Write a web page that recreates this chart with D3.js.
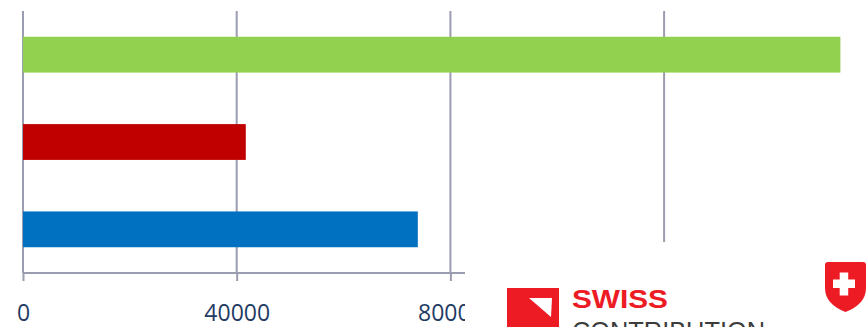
<!DOCTYPE html>
<html>
<head>
<meta charset="utf-8">
<script src="https://cdn.jsdelivr.net/npm/d3@7"></script>
<style>
  html, body { margin: 0; padding: 0; background: #fff; }
  svg { display: block; }
</style>
</head>
<body>
<svg id="chart" width="868" height="327"></svg>
<script>
// ---- data ----
const categories = ["A", "B", "C"];
const values = [153000, 41700, 73900];
const colors = ["#92d050", "#c00000", "#0070c0"];
const gridValues = [0, 40000, 80000, 120000];
const tickLabels = [0, 40000, 80000];

const svg = d3.select("#chart");
const W = 868, H = 327;
const x0 = 23, plotTop = 11, plotBottom = 273;

const x = d3.scaleLinear().domain([0, 160000]).range([x0, x0 + 4 * 213.7]);
const y = d3.scaleBand().domain(categories).range([plotTop, plotBottom])
  .paddingInner(0.59).paddingOuter(0.295);

const gridColor = "#9a9cb0";

// gridlines
svg.append("g").selectAll("line").data(gridValues).join("line")
  .attr("x1", d => x(d)).attr("x2", d => x(d))
  .attr("y1", plotTop).attr("y2", plotBottom)
  .attr("stroke", gridColor).attr("stroke-width", 2);

// bars
svg.append("g").selectAll("rect").data(categories).join("rect")
  .attr("x", x(0))
  .attr("y", d => y(d))
  .attr("width", (d, i) => x(values[i]) - x(0))
  .attr("height", y.bandwidth())
  .attr("fill", (d, i) => colors[i]);

// axis
const axis = d3.axisBottom(x).tickValues(tickLabels).tickSize(8).tickPadding(24)
  .tickFormat(d3.format("d"));
const gAxis = svg.append("g").attr("transform", `translate(0,${plotBottom})`).call(axis);
gAxis.select(".domain").attr("stroke", gridColor).attr("stroke-width", 2)
  .attr("d", `M${x0},0H${W}`);
gAxis.selectAll(".tick line").attr("stroke", gridColor).attr("stroke-width", 2);
gAxis.selectAll(".tick text")
  .attr("fill", "#1f3b63")
  .attr("font-family", "'Open Sans', sans-serif")
  .attr("font-size", 23);

// logo overlay (white background)
const logo = svg.append("g");
logo.append("rect").attr("x", 465).attr("y", 242).attr("width", W - 465).attr("height", H - 242).attr("fill", "#fff");
logo.append("rect").attr("x", 507).attr("y", 288).attr("width", 52).attr("height", 50).attr("fill", "#ed1c24");
logo.append("path").attr("d", "M529,298 L552,298 L551,317 Z").attr("fill", "#fff");
logo.append("text").attr("x", 572).attr("y", 307.5)
  .attr("font-family", "'Liberation Sans', Arial, sans-serif").attr("font-weight", "bold")
  .attr("font-size", 25).attr("fill", "#ed1c24")
  .attr("textLength", 96).attr("lengthAdjust", "spacingAndGlyphs").text("SWISS");
logo.append("text").attr("x", 572).attr("y", 340)
  .attr("font-family", "'Liberation Sans', Arial, sans-serif")
  .attr("font-size", 25).attr("fill", "#3c3c3c")
  .attr("textLength", 193).attr("lengthAdjust", "spacingAndGlyphs").text("CONTRIBUTION");
// shield
logo.append("path")
  .attr("d", "M825,265 Q825,262 828,262 L863,262 Q866,262 866,265 L866,288 Q866,304 845.5,312 Q825,304 825,288 Z")
  .attr("fill", "#ed1c24");
logo.append("rect").attr("x", 833).attr("y", 279.5).attr("width", 22).attr("height", 8.5).attr("fill", "#fff");
logo.append("rect").attr("x", 839.7).attr("y", 272.5).attr("width", 8.5).attr("height", 23).attr("fill", "#fff");
</script>
</body>
</html>
